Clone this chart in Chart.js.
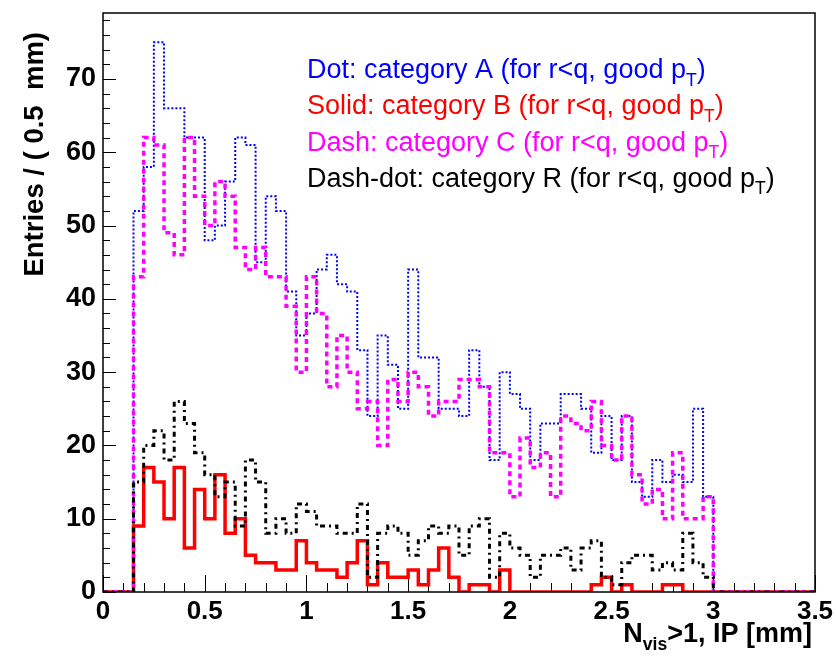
<!DOCTYPE html>
<html>
<head>
<meta charset="utf-8">
<script src="https://cdn.jsdelivr.net/npm/chart.js@4.4.0/dist/chart.umd.min.js"></script>
<style>
  html, body { margin: 0; padding: 0; background: #fff; overflow: hidden; }
  canvas { display: block; }
</style>
</head>
<body>
<canvas id="chart" width="836" height="658"></canvas>
<script>
// histogram binning (mm): 0.05 wide bins, first filled bin at 0.15
const binStart = 0.15;
const binWidth = 0.05;
const xMin = 0, xMax = 3.5;
const yMin = 0, yMax = 79;

// entries per bin
const catA = [52, 58, 75, 66, 66, 62, 62, 48, 50, 56, 62, 61, 45, 54, 52, 41, 35, 38, 44, 46,
              42, 41, 33, 24, 35, 31, 25, 44, 32, 32, 25, 25, 24, 33, 28, 18, 30, 27, 25, 18,
              23, 23, 27, 27, 25, 19, 24, 18, 24, 15, 13, 18, 15, 16, 15, 25, 13];
const catB = [9, 17, 15, 10, 17, 6, 14, 10, 16, 8, 10, 5, 4, 4, 3, 3, 7, 4, 3, 3,
              2, 4, 7, 1, 4, 2, 2, 3, 1, 3, 6, 2, 0, 1, 1, 0, 3, 0, 0, 0,
              0, 0, 0, 0, 0, 1, 2, 0, 1, 0, 0, 0, 1, 1, 0, 0, 0];
const catC = [43, 62, 61, 49, 46, 62, 54, 50, 56, 54, 47, 44, 47, 43, 43, 39, 30, 43, 38, 28,
              35, 30, 25, 26, 20, 29, 26, 30, 28, 24, 26, 26, 29, 29, 28, 19, 19, 13, 21, 17,
              19, 13, 24, 23, 22, 26, 20, 18, 24, 16, 12, 14, 10, 19, 10, 10, 13];
const catR = [15, 20, 22, 18, 26, 23, 19, 16, 13, 15, 9, 18, 15, 8, 10, 8, 12, 11, 9, 9,
              8, 8, 12, 2, 8, 9, 8, 5, 7, 9, 8, 9, 5, 9, 10, 2, 8, 6, 5, 2,
              5, 5, 6, 3, 6, 7, 2, 1, 4, 5, 5, 3, 4, 3, 8, 4, 2];

const legendLabels = [
    'Dot: category A (for r<q, good p_T)',
    'Solid: category B (for r<q, good p_T)',
    'Dash: category C (for r<q, good p_T)',
    'Dash-dot: category R (for r<q, good p_T)'
];
const xTitle = 'N_{vis}>1, IP [mm]';
const yTitle = 'Entries / ( 0.5  mm)';

const FONT = '"Liberation Sans", Arial, Helvetica, sans-serif';

// turn bin contents into step points (left edge of each bin)
function histPoints(values) {
    const pts = [{ x: xMin, y: 0 }, { x: binStart, y: 0 }];
    values.forEach((v, i) => pts.push({ x: binStart + i * binWidth, y: v }));
    pts.push({ x: binStart + values.length * binWidth, y: 0 });
    pts.push({ x: xMax, y: 0 });
    return pts;
}

// split "p_T" / "N_{vis}" into normal + subscript pieces
function richParts(str) {
    const parts = [];
    const re = /_\{([^}]*)\}|_(.)/g;
    let last = 0, m;
    while ((m = re.exec(str)) !== null) {
        if (m.index > last) parts.push({ t: str.slice(last, m.index), sub: false });
        parts.push({ t: m[1] || m[2], sub: true });
        last = re.lastIndex;
    }
    if (last < str.length) parts.push({ t: str.slice(last), sub: false });
    return parts;
}

function drawRich(ctx, str, x, y, size, weight, align) {
    const parts = richParts(str);
    const fontOf = p => weight + ' ' + (p.sub ? size * 0.65 : size).toFixed(1) + 'px ' + FONT;
    let total = 0;
    parts.forEach(p => { ctx.font = fontOf(p); p.w = ctx.measureText(p.t).width; total += p.w; });
    let cx = align === 'right' ? x - total : x;
    ctx.textAlign = 'left';
    ctx.textBaseline = 'alphabetic';
    parts.forEach(p => {
        ctx.font = fontOf(p);
        ctx.fillText(p.t, cx, p.sub ? y + size * 0.28 : y);
        cx += p.w;
    });
}

const legendColors = ['#0000ff', '#ff0000', '#ff00ff', '#000000'];

const rootFrame = {
    id: 'rootFrame',
    beforeDatasetsDraw(chart) {
        const { ctx, chartArea: a, scales: { x, y } } = chart;
        const l = Math.round(a.left), b = Math.round(a.bottom);
        ctx.save();
        ctx.fillStyle = '#000';
        for (let k = 0; k <= 35; k++) {
            const px = Math.round(x.getPixelForValue(k * 0.1));
            const len = k % 5 === 0 ? 17 : 9;
            ctx.fillRect(px, b - len, 1, len);
        }
        for (let k = 0; k * 2 <= yMax; k++) {
            const py = Math.round(y.getPixelForValue(k * 2));
            ctx.fillRect(l, py, k % 5 === 0 ? 13 : 7, 1);
        }
        ctx.restore();
    },
    afterDraw(chart) {
        const { ctx, chartArea: a } = chart;
        ctx.save();
        // frame box
        ctx.setLineDash([]);
        ctx.strokeStyle = '#000';
        ctx.lineWidth = 1.5;
        ctx.strokeRect(a.left, a.top, a.right - a.left, a.bottom - a.top);

        legendLabels.forEach((txt, i) => {
            ctx.fillStyle = legendColors[i];
            drawRich(ctx, txt, 307, 78 + i * 36.3, 27, 'normal', 'left');
        });
        ctx.fillStyle = '#000';
        drawRich(ctx, xTitle, 812, 642, 27, 'bold', 'right');
        ctx.translate(43, 32);
        ctx.rotate(-Math.PI / 2);
        ctx.font = 'bold 27.5px ' + FONT;
        ctx.textAlign = 'right';
        ctx.textBaseline = 'alphabetic';
        ctx.fillText(yTitle, 0, 0);
        ctx.restore();
    }
};

function histDataset(values, color, width, dash, order) {
    return {
        data: histPoints(values),
        borderColor: color,
        borderWidth: width,
        borderDash: dash,
        stepped: 'before',
        pointRadius: 0,
        fill: false,
        order: order
    };
}

const ctx = document.getElementById('chart').getContext('2d');
new Chart(ctx, {
    type: 'line',
    data: {
        datasets: [
            histDataset(catA, '#0000ff', 2, [2, 2], 4),
            histDataset(catB, '#ff0000', 3.5, [], 3),
            histDataset(catC, '#ff00ff', 3.5, [5, 4], 2),
            histDataset(catR, '#000000', 3, [5, 4, 2, 4], 1)
        ]
    },
    options: {
        responsive: false,
        animation: false,
        devicePixelRatio: 1,
        layout: { padding: { left: 0, right: 21, top: 13, bottom: 0 } },
        plugins: { legend: { display: false }, tooltip: { enabled: false } },
        scales: {
            x: {
                type: 'linear',
                min: xMin,
                max: xMax,
                grid: { display: false, drawTicks: false },
                border: { display: false },
                ticks: {
                    stepSize: 0.5,
                    autoSkip: false,
                    maxRotation: 0,
                    padding: 4,
                    color: '#000',
                    font: { family: FONT, size: 26, weight: 'bold' },
                    callback: v => String(Math.round(v * 10) / 10)
                },
                afterFit(scale) {
                    scale.height = 66;
                    scale.paddingLeft = 0;
                    scale.paddingRight = 0;
                }
            },
            y: {
                min: yMin,
                max: yMax,
                grid: { display: false, drawTicks: false },
                border: { display: false },
                ticks: {
                    stepSize: 10,
                    includeBounds: false,
                    autoSkip: false,
                    padding: 7,
                    color: '#000',
                    font: { family: FONT, size: 27, weight: 'bold' }
                },
                afterFit(scale) {
                    scale.width = 103;
                    scale.paddingTop = 0;
                    scale.paddingBottom = 0;
                }
            }
        }
    },
    plugins: [rootFrame]
});
</script>
</body>
</html>
